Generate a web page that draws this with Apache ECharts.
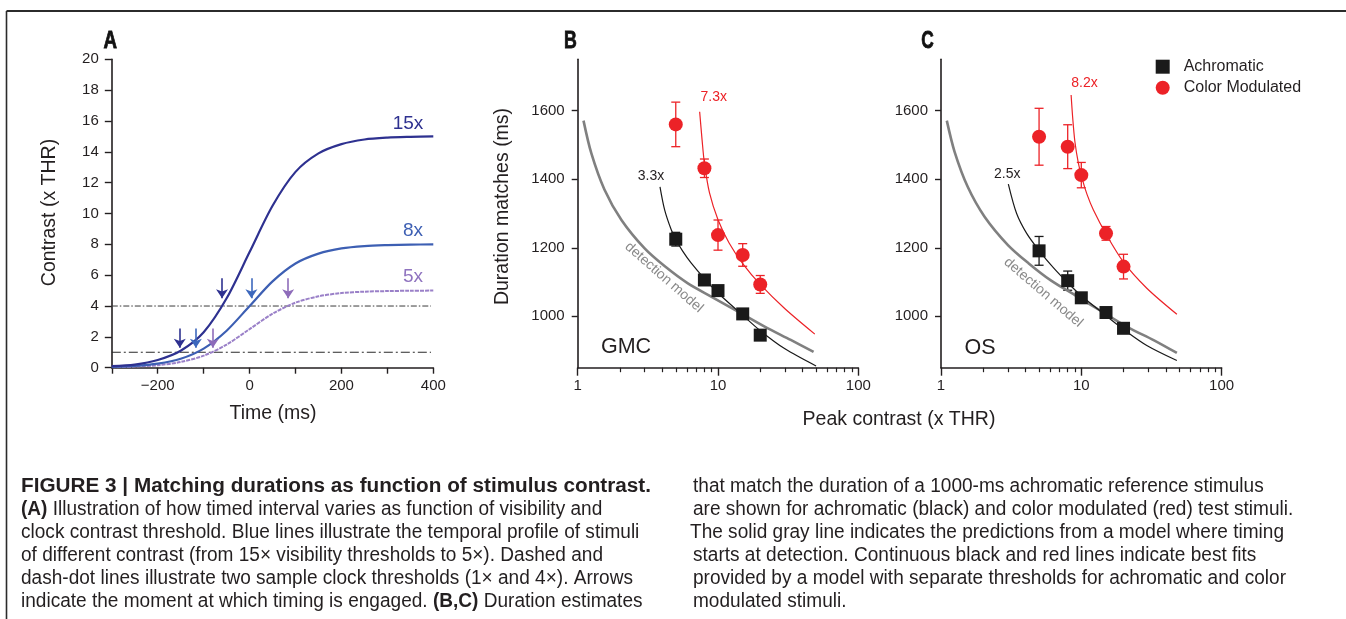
<!DOCTYPE html>
<html><head><meta charset="utf-8">
<script src="https://cdn.jsdelivr.net/npm/echarts@6.0.0/dist/echarts.min.js"></script>
<style>html,body{margin:0;padding:0;background:#fff;}#chart{width:1346px;height:619px;}</style>
</head><body><div id="chart"></div>
<script>
// ---------- Panel A data ----------
const timeMs      = [-300,-250,-200,-150,-100,-50,0,50,100,150,200,250,300,350,400];
const contrast15x = [0.1,0.2,0.5,1.1,2.3,4.5,7.5,10.5,12.7,13.9,14.5,14.8,14.92,14.97,15];
const contrast8x  = [0.05,0.11,0.26,0.58,1.24,2.4,4.0,5.6,6.76,7.4,7.74,7.89,7.95,7.98,8];
const contrast5x  = [0.03,0.07,0.16,0.37,0.78,1.5,2.5,3.5,4.22,4.63,4.84,4.93,4.97,4.99,5];
const thresholdLevels = [1, 4];
const thresholdSpan = [-300, 395];
const arrowTimes15 = [-152, -60];
const arrowTimes8  = [-117, 4];
const arrowTimes5  = [-80, 84];
const arrowTop = [2.55, 5.8];
const arrowTip = [1.3, 4.5];
const timeTickLabels = [-200, 0, 200, 400];

// ---------- Panels B, C data ----------
const peakContrast = [5, 8, 10, 15, 20];
const achroB = [1225, 1106, 1075, 1007, 945];
const achroBErr = [20, 10, 8, 8, 8];
const colorB = [1560, 1432, 1237, 1179, 1093];
const colorBErr = [65, 27, 44, 33, 26];
const achroC = [1191, 1104, 1054, 1011, 965];
const achroCErr = [42, 28, 10, 8, 8];
const colorC = [1524, 1495, 1412, 1242, 1145];
const colorCErr = [83, 64, 37, 20, 36];

const detectB_x = [1.1,1.25,1.55,2.05,3,4.2,6.1,9,14,21.5,33,48];
const detectB_y = [1571,1476,1370,1281,1198,1145,1096,1057,1013,970,931,896];
const detectC_x = [1.1,1.25,1.55,2.05,3,4.2,6.1,9,14,21.5,33,48];
const detectC_y = [1571,1480,1378,1290,1208,1155,1104,1062,1014,968,930,893];
const fitAchroB_x = [3.86,4.17,4.65,5,5.6,6.45,8,10,15,20,30,50];
const fitAchroB_y = [1378,1310,1252,1225,1190,1155,1110,1068,1003,958,905,855];
const fitColorB_x = [7.4,7.7,8,8.7,10,12,15,20,30,49];
const fitColorB_y = [1597,1515,1447,1360,1282,1214,1154,1093,1022,948];
const fitAchroC_x = [3.02,3.46,4.08,5,6.32,8,10,15,20,29.3,48];
const fitAchroC_y = [1386,1300,1242,1192,1142,1098,1060,1002,962,915,871];
const fitColorC_x = [8.46,8.7,9.0,9.5,10.2,11,12.2,15,20,29.3,48];
const fitColorC_y = [1646,1575,1510,1450,1398,1355,1310,1240,1158,1082,1006];

const durationTicks = [1000, 1200, 1400, 1600];
const logMajor = [1, 10, 100];
const logMinor = [2,3,4,5,6,7,8,9,20,30,40,50,60,70,80,90];

// ---------- caption ----------
const captionLeft = [
  {y:486, x:21, end:651, parts:[['b','FIGURE 3 | Matching durations as function of stimulus contrast.']], title:true},
  {y:509, x:21, end:640, parts:[['b','(A)'],['n',' Illustration of how timed interval varies as function of visibility and']]},
  {y:532, x:21, end:660, parts:[['n','clock contrast threshold. Blue lines illustrate the temporal profile of stimuli']]},
  {y:555, x:21, end:606, parts:[['n','of different contrast (from 15\u00d7 visibility thresholds to 5\u00d7). Dashed and']]},
  {y:578, x:21, end:633, parts:[['n','dash-dot lines illustrate two sample clock thresholds (1\u00d7 and 4\u00d7). Arrows']]},
  {y:601, x:21, end:655, parts:[['n','indicate the moment at which timing is engaged. '],['b','(B,C)'],['n',' Duration estimates']]}
];
const captionRight = [
  {y:486, x:693, end:1262, parts:[['n','that match the duration of a 1000-ms achromatic reference stimulus']]},
  {y:509, x:693, end:1285, parts:[['n','are shown for achromatic (black) and color modulated (red) test stimuli.']]},
  {y:532, x:690, end:1284, parts:[['n','The solid gray line indicates the predictions from a model where timing']]},
  {y:555, x:693, end:1255, parts:[['n','starts at detection. Continuous black and red lines indicate best fits']]},
  {y:578, x:693, end:1276, parts:[['n','provided by a model with separate thresholds for achromatic and color']]},
  {y:601, x:693, end:845, parts:[['n','modulated stimuli.']], short:true}
];

// ---------- helpers ----------
const FONT = '"Liberation Sans", Arial, Helvetica, sans-serif';
const INK = '#231f20';
const pairs = (xs, ys) => xs.map((x, i) => [x, ys[i]]);
const C15 = '#2e3190', C8 = '#3d5fb3', C5 = '#8f73bf';
const RED = '#ec2227', BLK = '#1a1a1a', GRAY = '#808080';

function arrowData(times) {
  return times.map((t, i) => [{coord: [t, arrowTop[i]]}, {coord: [t, arrowTip[i]]}]);
}
function arrowMark(times, color) {
  return {silent: true, symbol: ['none', 'arrow'], symbolSize: 9, label: {show: false},
    emphasis: {disabled: true}, animation: false,
    lineStyle: {color: color, width: 1.6, type: 'solid', opacity: 1}, data: arrowData(times)};
}
function errData(xs, ys, es) { return xs.map((x, i) => [x, ys[i], ys[i] - es[i], ys[i] + es[i]]); }
function errSeries(xi, yi, xs, ys, es, color) {
  return {type: 'custom', xAxisIndex: xi, yAxisIndex: yi, silent: true, z: 3,
    data: errData(xs, ys, es), encode: {x: 0, y: [1, 2, 3]},
    renderItem: function (params, api) {
      const x = api.value(0);
      const lo = api.coord([x, api.value(2)]);
      const hi = api.coord([x, api.value(3)]);
      const w = 4.5, st = {stroke: color, lineWidth: 1.3};
      return {type: 'group', children: [
        {type: 'line', shape: {x1: lo[0], y1: lo[1], x2: hi[0], y2: hi[1]}, style: st},
        {type: 'line', shape: {x1: lo[0] - w, y1: lo[1], x2: lo[0] + w, y2: lo[1]}, style: st},
        {type: 'line', shape: {x1: hi[0] - w, y1: hi[1], x2: hi[0] + w, y2: hi[1]}, style: st}
      ]};
    }};
}
function lineS(xi, yi, data, color, width, extra) {
  return Object.assign({type: 'line', xAxisIndex: xi, yAxisIndex: yi, data: data, symbol: 'none',
    smooth: 0.3, silent: true, lineStyle: {color: color, width: width}}, extra || {});
}

const axisLineStyle = {color: INK, width: 1.6};
function logMainAxis(grid) {
  return {type: 'log', logBase: 10, gridIndex: grid, min: 1, max: 100, position: 'bottom',
    axisLine: {show: true, onZero: false, lineStyle: axisLineStyle},
    axisTick: {show: true, inside: false, length: 8, customValues: logMajor, lineStyle: {color: INK, width: 1.4}},
    axisLabel: {show: true, customValues: logMajor, margin: 11, fontSize: 15, color: INK, fontFamily: FONT,
      formatter: v => String(v)},
    splitLine: {show: false}, minorTick: {show: false}};
}
function logMinorAxis(grid) {
  return {type: 'log', logBase: 10, gridIndex: grid, min: 1, max: 100, position: 'bottom',
    axisLine: {show: false, onZero: false},
    axisTick: {show: true, inside: false, length: 4.5, customValues: logMinor, lineStyle: {color: INK, width: 1.2}},
    axisLabel: {show: false}, splitLine: {show: false}};
}
function durAxis(grid) {
  return {type: 'value', gridIndex: grid, min: 850, max: 1750,
    axisLine: {show: true, onZero: false, lineStyle: axisLineStyle},
    axisTick: {show: true, length: 6, customValues: durationTicks, lineStyle: {color: INK, width: 1.4}},
    axisLabel: {customValues: durationTicks, margin: 13, fontSize: 15, color: INK, fontFamily: FONT,
      formatter: v => String(v)},
    splitLine: {show: false}};
}

// caption fitting (horizontal compression to emulate the condensed face)
const CAP_SIZE = 20;
const mctx = document.createElement('canvas').getContext('2d');
function measure(parts, size) {
  let w = 0;
  parts.forEach(p => { mctx.font = (p[0] === 'b' ? 'bold ' : '') + size + 'px ' + FONT; w += mctx.measureText(p[1]).width; });
  return w;
}
function median(a) { const s = a.slice().sort((x, y) => x - y); return s[Math.floor(s.length / 2)]; }
const bodyScales = captionLeft.concat(captionRight).filter(l => !l.title && !l.short)
  .map(l => (l.end - l.x) / measure(l.parts, CAP_SIZE));
const bodyScale = median(bodyScales);
const titleScale = (captionLeft[0].end - captionLeft[0].x) / measure(captionLeft[0].parts, CAP_SIZE);
const richCap = {
  b: {fontWeight: 'bold', fontSize: CAP_SIZE, fontFamily: FONT, fill: INK},
  n: {fontSize: CAP_SIZE, fontFamily: FONT, fill: INK}
};
function captionEl(l) {
  return {type: 'text', x: l.x, y: l.y, scaleX: l.title ? titleScale : bodyScale, silent: true,
    style: {text: l.parts.map(p => '{' + p[0] + '|' + p[1] + '}').join(''), rich: richCap,
      fontSize: CAP_SIZE, fontFamily: FONT, fill: INK, align: 'left', verticalAlign: 'middle'}};
}
function txt(t, x, y, size, color, opts) {
  opts = opts || {};
  return {type: 'text', x: x, y: y, rotation: opts.rot || 0, scaleX: opts.sx || 1, silent: true, z: 50,
    style: {text: t, fontSize: size, fontFamily: FONT, fontWeight: opts.bold ? 'bold' : 'normal',
      fill: color, align: opts.align || 'center', verticalAlign: 'middle',
      stroke: opts.bold ? color : 'none', lineWidth: opts.bold ? 0.8 : 0}};
}

const graphics = [
  {type: 'line', silent: true, shape: {x1: 6.5, y1: 11, x2: 1346, y2: 11}, style: {stroke: '#2b2b2b', lineWidth: 1.8}},
  {type: 'line', silent: true, shape: {x1: 6.5, y1: 11, x2: 6.5, y2: 619}, style: {stroke: '#2b2b2b', lineWidth: 1.6}},
  txt('A', 110.3, 41.5, 24, '#111', {bold: true, sx: 0.78}),
  txt('B', 570.3, 41.5, 24, '#111', {bold: true, sx: 0.74}),
  txt('C', 927.5, 41.5, 24, '#111', {bold: true, sx: 0.72}),
  txt('Contrast (x THR)', 50, 212.5, 19.5, INK, {rot: Math.PI / 2}),
  txt('Time (ms)', 273, 414, 19.5, INK),
  txt('Duration matches (ms)', 502.5, 206.5, 19.5, INK, {rot: Math.PI / 2}),
  txt('Peak contrast (x THR)', 899, 420, 19.5, INK),
  txt('15x', 408, 123.5, 19, C15),
  txt('8x', 413, 230.5, 19, C8),
  txt('5x', 413, 277, 19, C5),
  txt('3.3x', 651, 176, 14, INK),
  txt('7.3x', 713.7, 97.3, 14, RED),
  txt('2.5x', 1007.3, 173.7, 14, INK),
  txt('8.2x', 1084.5, 83.5, 14, RED),
  txt('GMC', 626, 347.5, 21.5, INK),
  txt('OS', 980, 348, 21.5, INK),
  txt('detection model', 664, 277.5, 14, '#8a8a8a', {rot: -41.3 * Math.PI / 180}),
  txt('detection model', 1043.3, 292.5, 14, '#8a8a8a', {rot: -40.7 * Math.PI / 180})
].concat(captionLeft.map(captionEl), captionRight.map(captionEl));

const scatterStyle = color => ({color: color, opacity: 1});
const option = {
  animation: false,
  backgroundColor: '#ffffff',
  textStyle: {fontFamily: FONT},
  grid: [
    {left: 111.8, top: 59.3, width: 321.5, height: 308.4, outerBoundsMode: 'none', containLabel: false},
    {left: 577.7, top: 59.3, width: 280.6, height: 308.4, outerBoundsMode: 'none', containLabel: false},
    {left: 941, top: 59.3, width: 280.6, height: 308.4, outerBoundsMode: 'none', containLabel: false}
  ],
  legend: {
    orient: 'vertical', left: 1155.7, top: 58.7, padding: 0, itemWidth: 32, itemHeight: 14, itemGap: 5,
    selectedMode: false, symbolKeepAspect: true,
    itemStyle: {opacity: 1},
    textStyle: {fontSize: 16, color: INK, fontFamily: FONT, lineHeight: 16},
    data: [{name: 'Achromatic', icon: 'path://M0,0H10V10H0Z'}, {name: 'Color Modulated', icon: 'circle'}]
  },
  xAxis: [
    {type: 'value', gridIndex: 0, min: -300, max: 400, interval: 100, position: 'bottom',
      axisLine: {show: true, onZero: false, lineStyle: axisLineStyle},
      axisTick: {show: true, length: 6, lineStyle: {color: INK, width: 1.4}},
      axisLabel: {customValues: timeTickLabels, margin: 11, fontSize: 15, color: INK, fontFamily: FONT,
        formatter: v => String(v).replace('-', '\u2212')},
      splitLine: {show: false}},
    logMainAxis(1), logMinorAxis(1), logMainAxis(2), logMinorAxis(2)
  ],
  yAxis: [
    {type: 'value', gridIndex: 0, min: 0, max: 20, interval: 2,
      axisLine: {show: true, onZero: false, lineStyle: axisLineStyle},
      axisTick: {show: true, length: 7, lineStyle: {color: INK, width: 1.4}},
      axisLabel: {margin: 13, fontSize: 15, color: INK, fontFamily: FONT},
      splitLine: {show: false}},
    durAxis(1), durAxis(2)
  ],
  graphic: {elements: graphics},
  series: [
    // Panel A thresholds
    lineS(0, 0, thresholdSpan.map(t => [t, thresholdLevels[1]]), '#3a3a3a', 1, {smooth: false, lineStyle: {color: '#3a3a3a', width: 1, type: [6, 2, 1.5, 2]}}),
    lineS(0, 0, thresholdSpan.map(t => [t, thresholdLevels[0]]), '#2a2a2a', 1, {smooth: false, lineStyle: {color: '#2a2a2a', width: 1.1, type: [9, 3, 2, 3]}}),
    // Panel A profiles
    lineS(0, 0, pairs(timeMs, contrast5x), C5, 2, {lineStyle: {color: '#9a80c8', width: 2, type: [4, 1]}, markLine: arrowMark(arrowTimes5, '#8e6cba')}),
    lineS(0, 0, pairs(timeMs, contrast8x), C8, 2.2, {markLine: arrowMark(arrowTimes8, '#3d68bd')}),
    lineS(0, 0, pairs(timeMs, contrast15x), C15, 2.2, {markLine: arrowMark(arrowTimes15, C15)}),
    // Panel B
    lineS(1, 1, pairs(detectB_x, detectB_y), GRAY, 2.6),
    lineS(1, 1, pairs(fitAchroB_x, fitAchroB_y), BLK, 1.2),
    lineS(1, 1, pairs(fitColorB_x, fitColorB_y), RED, 1.2),
    errSeries(1, 1, peakContrast, colorB, colorBErr, RED),
    errSeries(1, 1, peakContrast, achroB, achroBErr, BLK),
    {type: 'scatter', name: 'Achromatic', xAxisIndex: 1, yAxisIndex: 1, symbol: 'rect', symbolSize: 13, z: 5,
      itemStyle: scatterStyle(BLK), data: pairs(peakContrast, achroB)},
    {type: 'scatter', name: 'Color Modulated', xAxisIndex: 1, yAxisIndex: 1, symbol: 'circle', symbolSize: 14, z: 5,
      itemStyle: scatterStyle(RED), data: pairs(peakContrast, colorB)},
    // Panel C
    lineS(3, 2, pairs(detectC_x, detectC_y), GRAY, 2.6),
    lineS(3, 2, pairs(fitAchroC_x, fitAchroC_y), BLK, 1.2),
    lineS(3, 2, pairs(fitColorC_x, fitColorC_y), RED, 1.2),
    errSeries(3, 2, peakContrast, colorC, colorCErr, RED),
    errSeries(3, 2, peakContrast, achroC, achroCErr, BLK),
    {type: 'scatter', name: 'Achromatic', xAxisIndex: 3, yAxisIndex: 2, symbol: 'rect', symbolSize: 13, z: 5,
      itemStyle: scatterStyle(BLK), data: pairs(peakContrast, achroC)},
    {type: 'scatter', name: 'Color Modulated', xAxisIndex: 3, yAxisIndex: 2, symbol: 'circle', symbolSize: 14, z: 5,
      itemStyle: scatterStyle(RED), data: pairs(peakContrast, colorC)}
  ]
};
const chart = echarts.init(document.getElementById('chart'), null, {renderer: 'canvas'});
chart.setOption(option);
</script></body></html>
